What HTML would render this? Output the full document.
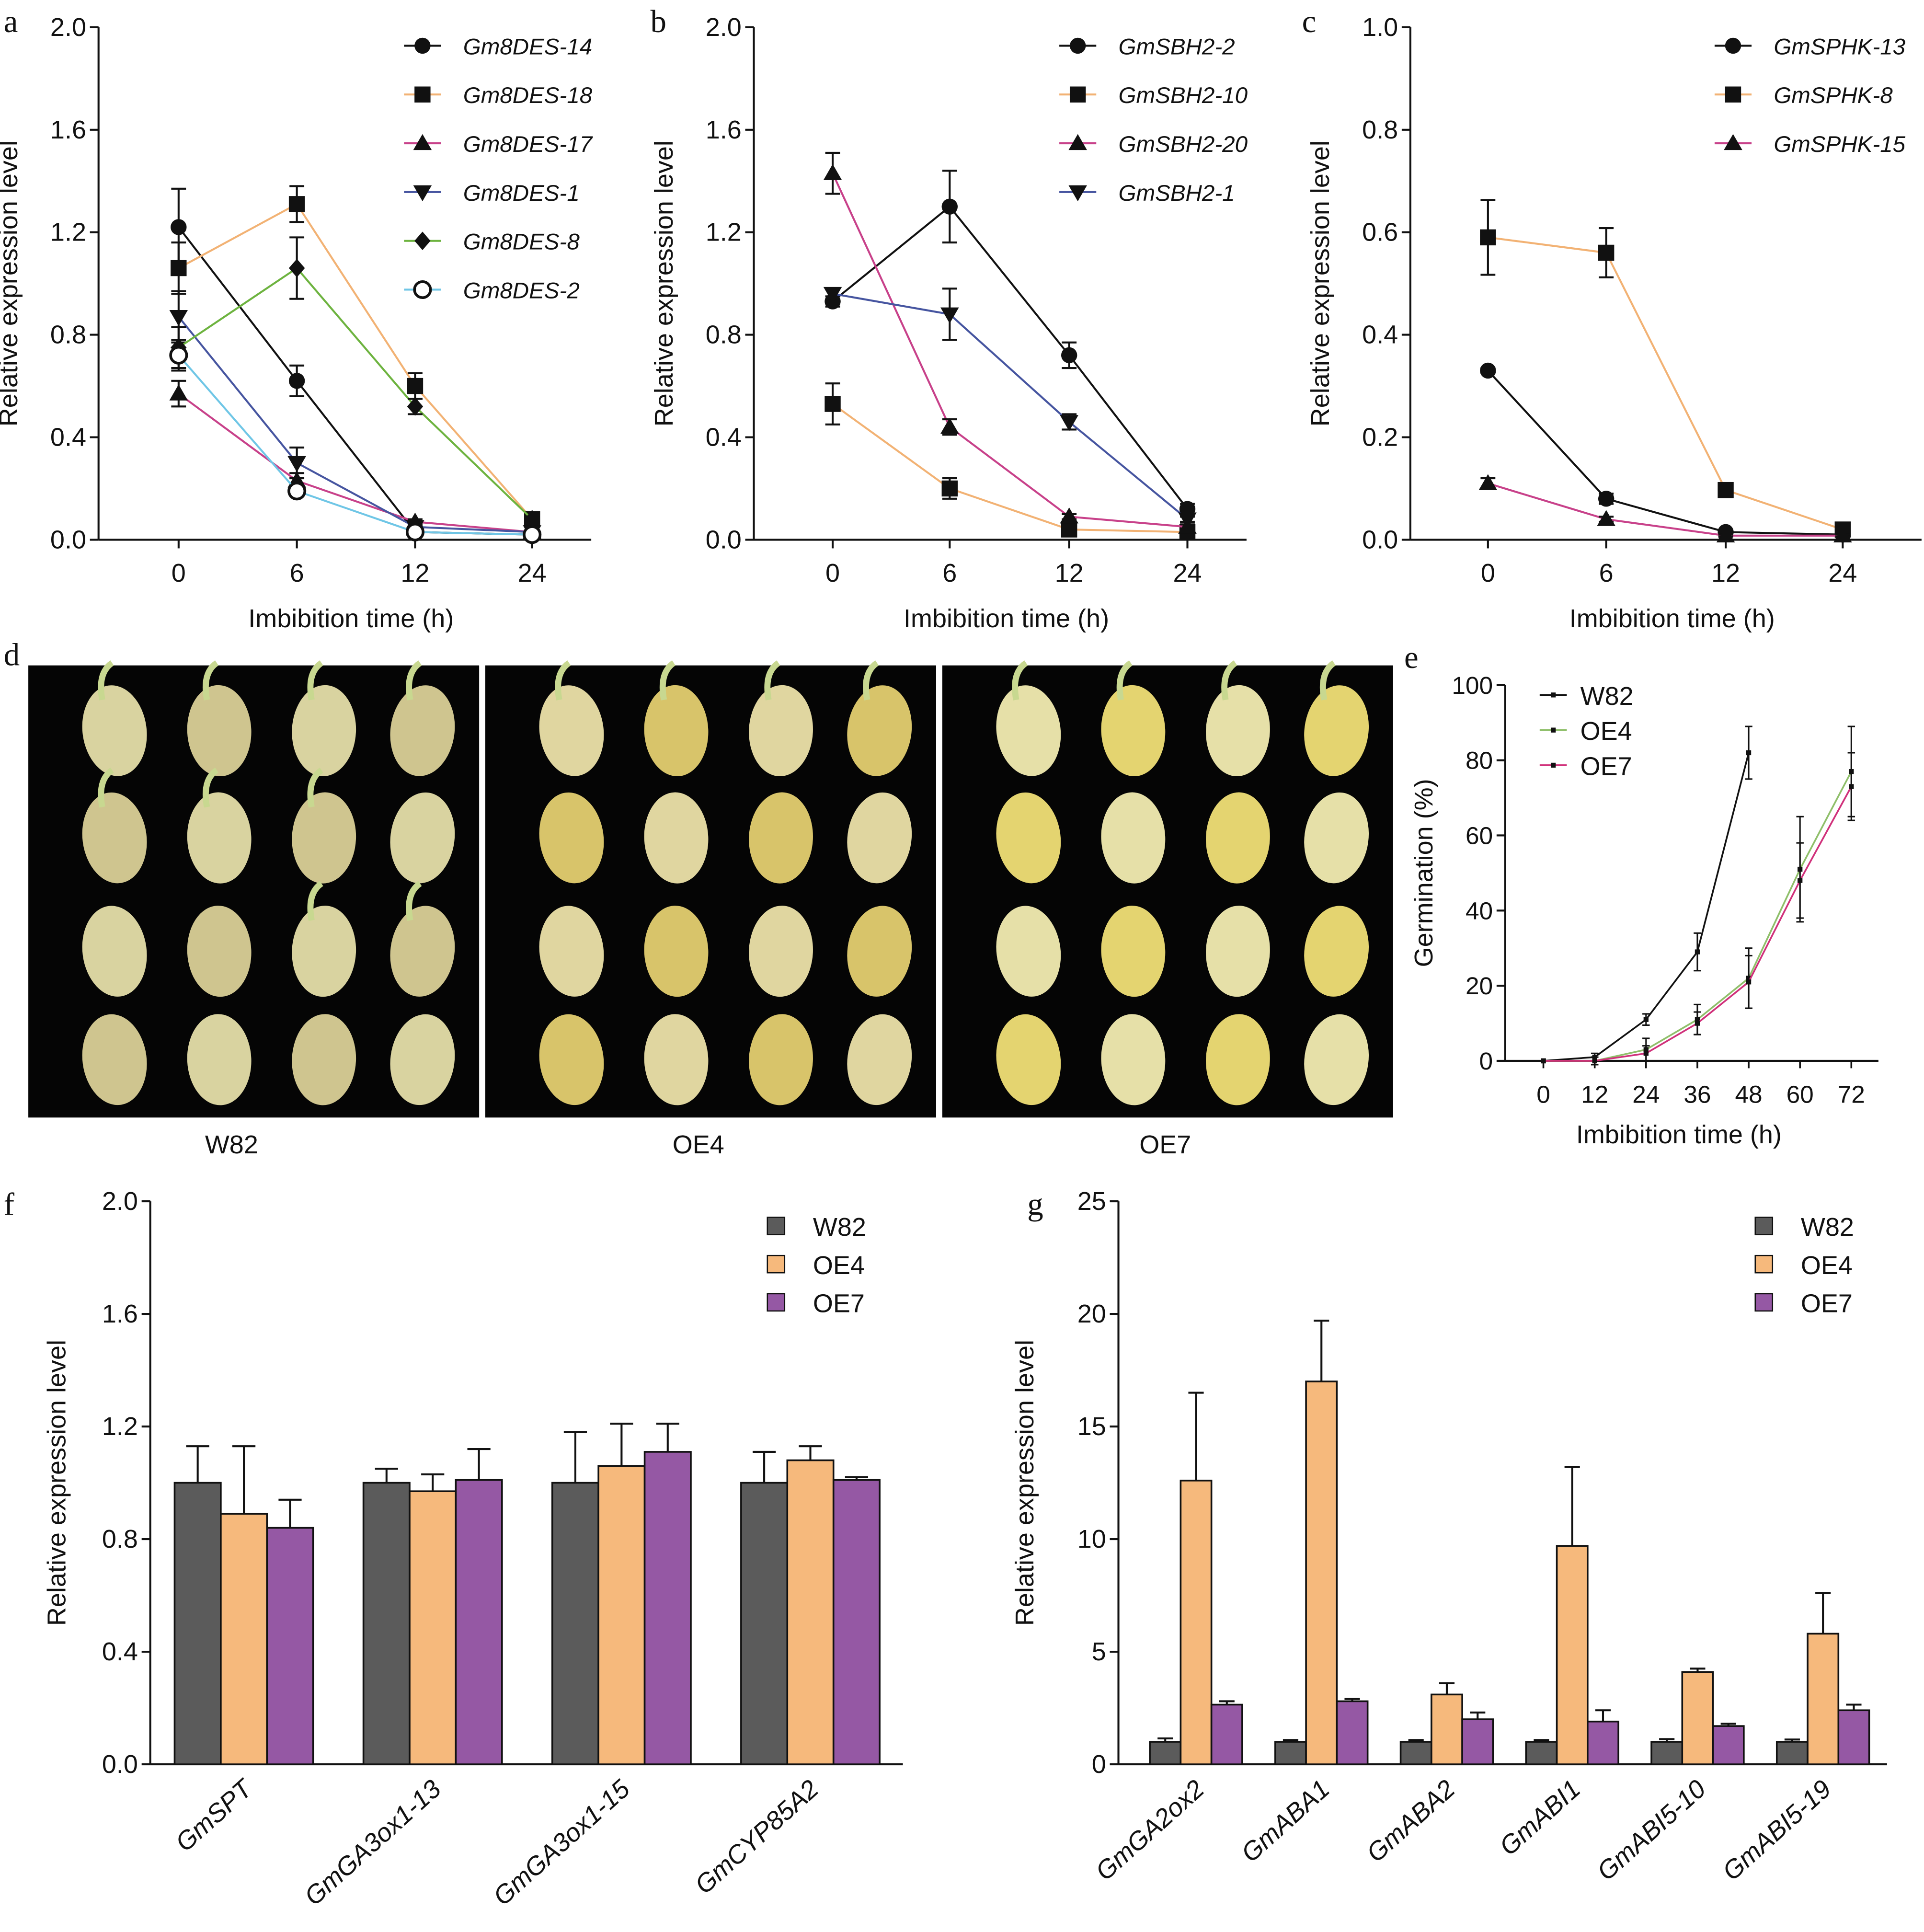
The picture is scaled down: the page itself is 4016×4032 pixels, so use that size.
<!DOCTYPE html>
<html><head><meta charset="utf-8"><style>
html,body{margin:0;padding:0;background:#fff}
svg{display:block}
text{font-family:"Liberation Sans",sans-serif;fill:#111}
</style></head><body>
<svg id="fig" xmlns="http://www.w3.org/2000/svg" width="4016" height="4032" viewBox="0 0 1562 1568">
<rect width="1562" height="1568" fill="#fff"/>
<g font-family="Liberation Serif" font-size="26">
<text x="3" y="26" style="font-family:'Liberation Serif',serif">a</text>
<text x="528" y="26" style="font-family:'Liberation Serif',serif">b</text>
<text x="1057" y="26" style="font-family:'Liberation Serif',serif">c</text>
<text x="3" y="540" style="font-family:'Liberation Serif',serif">d</text>
<text x="1140" y="542" style="font-family:'Liberation Serif',serif">e</text>
<text x="3" y="986" style="font-family:'Liberation Serif',serif">f</text>
<text x="834" y="986" style="font-family:'Liberation Serif',serif">g</text>
</g>
</svg>
<script>
// ---- Data ----
const timeCats = ["0","6","12","24"];
const aNames = ["Gm8DES-14","Gm8DES-18","Gm8DES-17","Gm8DES-1","Gm8DES-8","Gm8DES-2"];
const a14 = [1.22,0.62,0.03,0.02], a14e=[0.15,0.06,0.01,0.01];
const a18 = [1.06,1.31,0.60,0.08], a18e=[0.10,0.07,0.05,0.01];
const a17 = [0.57,0.23,0.07,0.03], a17e=[0.05,0.03,0.01,0.01];
const a1 = [0.87,0.30,0.05,0.03], a1e=[0.10,0.06,0.01,0.01];
const a8 = [0.75,1.06,0.52,0.08], a8e=[0.08,0.12,0.03,0.01];
const a2 = [0.72,0.19,0.03,0.02], a2e=[0.06,0.02,0.01,0.01];
const aTicks = ["0.0","0.4","0.8","1.2","1.6","2.0"];
const bNames = ["GmSBH2-2","GmSBH2-10","GmSBH2-20","GmSBH2-1"];
const b2 = [0.93,1.30,0.72,0.12], b2e=[0.02,0.14,0.05,0.02];
const b10 = [0.53,0.20,0.04,0.03], b10e=[0.08,0.04,0.01,0.01];
const b20 = [1.43,0.44,0.09,0.05], b20e=[0.08,0.03,0.01,0.01];
const b1 = [0.96,0.88,0.46,0.08], b1e=[0.02,0.10,0.03,0.01];
const cNames = ["GmSPHK-13","GmSPHK-8","GmSPHK-15"];
const c13 = [0.33,0.08,0.015,0.01], c13e=[0.005,0.01,0.003,0.002];
const c8 = [0.59,0.56,0.097,0.02], c8e=[0.073,0.048,0.005,0.003];
const c15 = [0.11,0.04,0.008,0.008], c15e=[0.01,0.005,0.002,0.002];
const cTicks = ["0.0","0.2","0.4","0.6","0.8","1.0"];
const eCats = [0,12,24,36,48,60,72];
const eTicks = ["0","20","40","60","80","100"];
const eW82 = [0,1,11,29,82], eW82e=[0,1,1.5,5,7];
const eOE4 = [0,0,3,11,22,51,77], eOE4e=[0,1,3,4,8,14,12];
const eOE7 = [0,0,2,10,21,48,73], eOE7e=[0,1,2,3,7,10,9];
const fCats = ["GmSPT","GmGA3ox1-13","GmGA3ox1-15","GmCYP85A2"];
const fW82 = [1,1,1,1], fW82e=[0.13,0.05,0.18,0.11];
const fOE4 = [0.89,0.97,1.06,1.08], fOE4e=[0.24,0.06,0.15,0.05];
const fOE7 = [0.84,1.01,1.11,1.01], fOE7e=[0.10,0.11,0.10,0.01];
const fTicks = ["0.0","0.4","0.8","1.2","1.6","2.0"];
const gCats = ["GmGA2ox2","GmABA1","GmABA2","GmABI1","GmABI5-10","GmABI5-19"];
const gW82 = [1,1,1,1,1,1], gW82e=[0.15,0.08,0.08,0.08,0.12,0.1];
const gOE4 = [12.6,17.0,3.1,9.7,4.1,5.8], gOE4e=[3.9,2.7,0.5,3.5,0.15,1.8];
const gOE7 = [2.65,2.8,2.0,1.9,1.7,2.4], gOE7e=[0.15,0.1,0.3,0.5,0.1,0.25];
const gTicks = ["0","5","10","15","20","25"];
const barNames = ["W82","OE4","OE7"];

// ---- Helpers ----
const NS="http://www.w3.org/2000/svg";
const svg=document.getElementById('fig');
function add(parent,tag,attrs,name,txt){
  const el=document.createElementNS(NS,tag);
  for(const k in attrs) el.setAttribute(k,attrs[k]);
  
  
  if(txt!==undefined) el.textContent=txt;
  parent.appendChild(el);
  return el;
}
function marker(g,shape,x,y,color,name){
  const s=6.5;
  if(shape==='circle') add(g,'circle',{cx:x,cy:y,r:s,fill:'#111'},name);
  else if(shape==='ocircle') add(g,'circle',{cx:x,cy:y,r:s,fill:'#fff',stroke:'#111','stroke-width':2.2},name);
  else if(shape==='square') add(g,'rect',{x:x-s,y:y-s,width:2*s,height:2*s,fill:'#111'},name);
  else if(shape==='tri') add(g,'polygon',{points:`${x},${y-s-1} ${x-s-1},${y+s-1} ${x+s+1},${y+s-1}`,fill:'#111'},name);
  else if(shape==='itri') add(g,'polygon',{points:`${x},${y+s+1} ${x-s-1},${y-s+1} ${x+s+1},${y-s+1}`,fill:'#111'},name);
  else if(shape==='diamond') add(g,'polygon',{points:`${x},${y-s-1} ${x-s},${y} ${x},${y+s+1} ${x+s},${y}`,fill:'#111'},name);
}
function yAxis(g,ax,y0,y1,ticks,title,titleX,fs){
  add(g,'line',{x1:ax,y1:y1,x2:ax,y2:y0,stroke:'#111','stroke-width':1.6},'y-axis-line');
  ticks.forEach((t,i)=>{
    const y=y0+(y1-y0)*i/(ticks.length-1);
    add(g,'line',{x1:ax-7,y1:y,x2:ax,y2:y,stroke:'#111','stroke-width':1.6},'y-tick');
    add(g,'text',{x:ax-10,y:y+7,'text-anchor':'end','font-size':fs||21},'y-tick-label',t);
  });
  const cy=(y0+y1)/2;
  add(g,'text',{x:titleX,y:cy,'text-anchor':'middle','font-size':21,transform:`rotate(-90 ${titleX} ${cy})`},'y-axis-title',title);
}
function lineChart(id,ax,xs,xEnd,ymax,ticks,series,legX){
  const g=add(svg,'g',{},id);
  const y0=438,y1=22;
  const Y=v=>y0-(v/ymax)*(y0-y1);
  yAxis(g,ax,y0,y1,ticks,'Relative expression level',ax-66);
  add(g,'line',{x1:ax,y1:y0,x2:xEnd,y2:y0,stroke:'#111','stroke-width':1.6},'x-axis-line');
  xs.forEach((x,i)=>{
    add(g,'line',{x1:x,y1:y0,x2:x,y2:y0+7,stroke:'#111','stroke-width':1.6},'x-tick');
    add(g,'text',{x:x,y:y0+34,'text-anchor':'middle','font-size':21},'x-tick-label',timeCats[i]);
  });
  add(g,'text',{x:(ax+xEnd)/2+5,y:y0+71,'text-anchor':'middle','font-size':21},'x-axis-title','Imbibition time (h)');
  series.forEach((s,si)=>{
    const sg=add(g,'g',{},'series-'+s.name);
    const pts=s.v.map((v,i)=>`${xs[i]},${Y(v)}`).join(' ');
    add(sg,'polyline',{points:pts,fill:'none',stroke:s.c,'stroke-width':1.6},'series-line');
    s.v.forEach((v,i)=>{
      const e=s.e[i];
      if(e>0){
        add(sg,'line',{x1:xs[i],y1:Y(v+e),x2:xs[i],y2:Y(v-e),stroke:'#111','stroke-width':1.6},'error-bar');
        add(sg,'line',{x1:xs[i]-6,y1:Y(v+e),x2:xs[i]+6,y2:Y(v+e),stroke:'#111','stroke-width':1.6},'error-cap');
        add(sg,'line',{x1:xs[i]-6,y1:Y(v-e),x2:xs[i]+6,y2:Y(v-e),stroke:'#111','stroke-width':1.6},'error-cap');
      }
      marker(sg,s.m,xs[i],Y(v),s.c,'data-point');
    });
    const ly=37+si*39.6;
    const lg=add(g,'g',{},'legend-entry');
    add(lg,'line',{x1:legX,y1:ly,x2:legX+30,y2:ly,stroke:s.c,'stroke-width':1.6},'legend-line');
    marker(lg,s.m,legX+15,ly,s.c,'legend-marker');
    add(lg,'text',{x:legX+48,y:ly+7,'font-size':18.5,'font-style':'italic'},'legend-label',s.name);
  });
}
const K='#111',O='#F2B274',M='#C8418A',B='#4655A0',G='#6DB33F',C='#6FC6E6';
lineChart('panel-a-chart',80,[145,241,337,432],480,2.0,aTicks,[
 {name:aNames[0],v:a14,e:a14e,c:K,m:'circle'},
 {name:aNames[1],v:a18,e:a18e,c:O,m:'square'},
 {name:aNames[2],v:a17,e:a17e,c:M,m:'tri'},
 {name:aNames[3],v:a1,e:a1e,c:B,m:'itri'},
 {name:aNames[4],v:a8,e:a8e,c:G,m:'diamond'},
 {name:aNames[5],v:a2,e:a2e,c:C,m:'ocircle'}],328);
lineChart('panel-b-chart',612,[676,771,868,964],1012,2.0,aTicks,[
 {name:bNames[0],v:b2,e:b2e,c:K,m:'circle'},
 {name:bNames[1],v:b10,e:b10e,c:O,m:'square'},
 {name:bNames[2],v:b20,e:b20e,c:M,m:'tri'},
 {name:bNames[3],v:b1,e:b1e,c:B,m:'itri'}],860);
lineChart('panel-c-chart',1145,[1208,1304,1401,1496],1560,1.0,cTicks,[
 {name:cNames[0],v:c13,e:c13e,c:K,m:'circle'},
 {name:cNames[1],v:c8,e:c8e,c:O,m:'square'},
 {name:cNames[2],v:c15,e:c15e,c:M,m:'tri'}],1392);

// ---- Panel d: seed photos ----
(function(){
  const g=add(svg,'g',{},'panel-d-photos');
  const boxes=[[23,'W82'],[394,'OE4'],[765,'OE7']];
  const fills=[['#d9d3a0','#cfc58f'],['#e0d6a0','#d8c46a'],['#e6e0a8','#e4d470']];
  boxes.forEach((b,bi)=>{
    const bg=add(g,'g',{},'photo-'+b[1]);
    add(bg,'rect',{x:b[0],y:540,width:366,height:367,fill:'#050505'},'photo-background');
    const cols=[70,155,240,320], rows=[593,680,772,860];
    rows.forEach((ry,r)=>cols.forEach((cx,c)=>{
      const f=fills[bi][(r+c)%2];
      add(bg,'ellipse',{cx:b[0]+cx,cy:ry,rx:26,ry:37,fill:f,transform:`rotate(${(c-1.5)*5} ${b[0]+cx} ${ry})`},'seed');
      if(r===0||(bi===0&&((r===1&&c<3)||(r===2&&c>=2)))){
        add(bg,'path',{d:`M${b[0]+cx-10},${ry-25} q-4,-22 8,-30`,stroke:'#c8d890','stroke-width':5,fill:'none'},'sprout');
      }
    }));
    add(g,'text',{x:b[0]+165+(bi*8),y:936,'text-anchor':'middle','font-size':21},'photo-label',b[1]);
  });
})();

// ---- Panel e: germination ----
(function(){
  const g=add(svg,'g',{},'panel-e-chart');
  const ax=1222,y0=861,y1=556;
  const X=v=>1253+(v/72)*(1503-1253);
  const Y=v=>y0-(v/100)*(y0-y1);
  yAxis(g,ax,y0,y1,eTicks,'Germination (%)',1163,20);
  add(g,'line',{x1:ax,y1:y0,x2:1525,y2:y0,stroke:'#111','stroke-width':1.6},'x-axis-line');
  eCats.forEach(c=>{
    add(g,'line',{x1:X(c),y1:y0,x2:X(c),y2:y0+6,stroke:'#111','stroke-width':1.4},'x-tick');
    add(g,'text',{x:X(c),y:y0+34,'text-anchor':'middle','font-size':20},'x-tick-label',String(c));
  });
  add(g,'text',{x:1363,y:928,'text-anchor':'middle','font-size':21},'x-axis-title','Imbibition time (h)');
  const ser=[['W82',eW82,eW82e,'#111'],['OE4',eOE4,eOE4e,'#8fbf6a'],['OE7',eOE7,eOE7e,'#d0307a']];
  ser.forEach((s,si)=>{
    const sg=add(g,'g',{},'series-'+s[0]);
    add(sg,'polyline',{points:s[1].map((v,i)=>`${X(eCats[i])},${Y(v)}`).join(' '),fill:'none',stroke:s[3],'stroke-width':1.4},'series-line');
    s[1].forEach((v,i)=>{
      const x=X(eCats[i]),e=s[2][i];
      if(e>0){
        add(sg,'line',{x1:x,y1:Y(v+e),x2:x,y2:Y(v-e),stroke:'#111','stroke-width':1.2},'error-bar');
        add(sg,'line',{x1:x-3,y1:Y(v+e),x2:x+3,y2:Y(v+e),stroke:'#111','stroke-width':1.2},'error-cap');
        add(sg,'line',{x1:x-3,y1:Y(v-e),x2:x+3,y2:Y(v-e),stroke:'#111','stroke-width':1.2},'error-cap');
      }
      add(sg,'rect',{x:x-2,y:Y(v)-2,width:4,height:4,fill:'#111'},'data-point');
    });
    const ly=564+si*28.5;
    const lg=add(g,'g',{},'legend-entry');
    add(lg,'line',{x1:1250,y1:ly,x2:1272,y2:ly,stroke:s[3],'stroke-width':1.4},'legend-line');
    add(lg,'rect',{x:1259,y:ly-2,width:4,height:4,fill:'#111'},'legend-marker');
    add(lg,'text',{x:1283,y:ly+8,'font-size':21},'legend-label',s[0]);
  });
})();

// ---- Bar charts ----
const barCols=['#5b5b5b','#F6B97C','#9558A4'];
function barChart(id,ax,xEnd,cats,ymax,ticks,series,errs,c0,step,bw,legX){
  const g=add(svg,'g',{},id);
  const y0=1432,y1=975;
  const Y=v=>y0-(v/ymax)*(y0-y1);
  yAxis(g,ax,y0,y1,ticks,'Relative expression level',ax-69);
  add(g,'line',{x1:ax,y1:y0,x2:xEnd,y2:y0,stroke:'#111','stroke-width':1.6},'x-axis-line');
  cats.forEach((cat,ci)=>{
    const cx=c0+ci*step;
    series.forEach((s,si)=>{
      const x=cx+(si-1.5)*bw, v=s[ci], e=errs[si][ci];
      add(g,'line',{x1:x+bw/2,y1:Y(v),x2:x+bw/2,y2:Y(v+e),stroke:'#111','stroke-width':1.6},'error-bar');
      add(g,'line',{x1:x+bw/2-bw/4,y1:Y(v+e),x2:x+bw/2+bw/4,y2:Y(v+e),stroke:'#111','stroke-width':1.6},'error-cap');
      add(g,'rect',{x:x,y:Y(v),width:bw,height:y0-Y(v),fill:barCols[si],stroke:'#111','stroke-width':1.4},'bar-'+barNames[si]+'-'+cat);
    });
    add(g,'text',{x:cx+8,y:y0+22,'text-anchor':'end','font-size':21,'font-style':'italic',transform:`rotate(-42 ${cx+8} ${y0+22})`},'x-category-label',cat);
  });
  barNames.forEach((n,i)=>{
    const ly=995+i*31;
    const lg=add(g,'g',{},'legend-entry');
    add(lg,'rect',{x:legX-7,y:ly-7,width:14,height:14,fill:barCols[i],stroke:'#111','stroke-width':1},'legend-swatch');
    add(lg,'text',{x:legX+30,y:ly+8,'font-size':21},'legend-label',n);
  });
}
barChart('panel-f-chart',122,733,fCats,2.0,fTicks,[fW82,fOE4,fOE7],[fW82e,fOE4e,fOE7e],198,153.3,37.5,630);
barChart('panel-g-chart',908,1532,gCats,25,gTicks,[gW82,gOE4,gOE7],[gW82e,gOE4e,gOE7e],971,101.8,25,1432);
</script>
</body></html>
